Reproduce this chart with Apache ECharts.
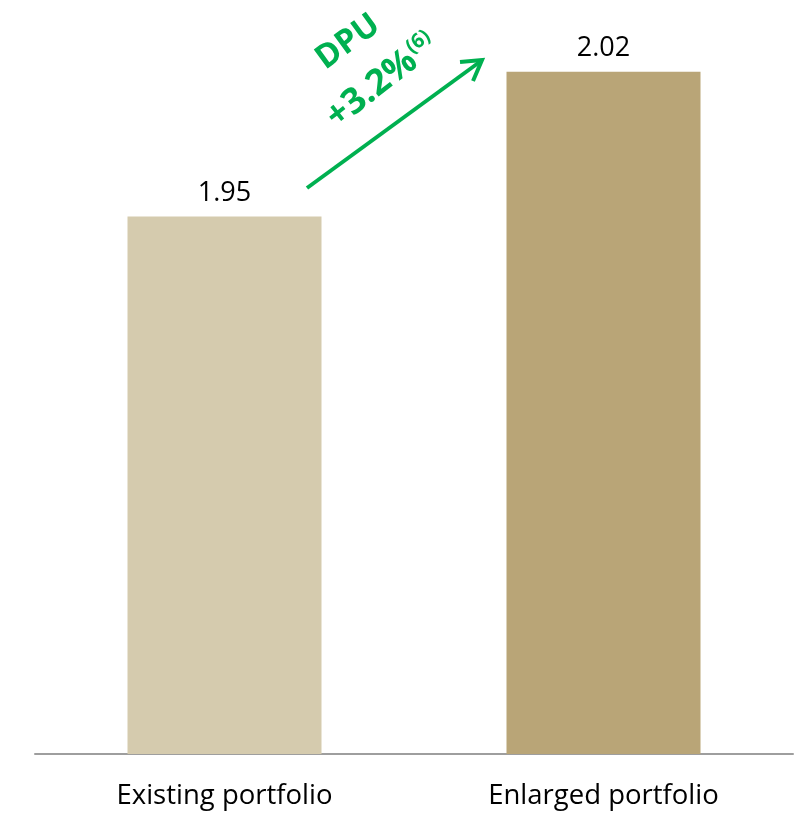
<!DOCTYPE html>
<html>
<head>
<meta charset="utf-8">
<script src="https://cdn.jsdelivr.net/npm/echarts@6/dist/echarts.min.js"></script>
<style>html,body{margin:0;padding:0;background:#fff}#c{width:797px;height:814px}</style>
</head>
<body>
<div id="c"></div>
<script>
const categories = ['Existing portfolio', 'Enlarged portfolio'];
const dpuValues = [1.95, 2.02];
const barColors = ['#D5CBAE', '#B9A577'];
const growthLabel = '+3.2%';
const growthNote = '(6)';
const titleLabel = 'DPU';

const chart = echarts.init(document.getElementById('c'));
const green = '#00B050';
const deg = Math.PI / 180;
chart.setOption({
  animation: false,
  grid: { left: 35, right: 4, top: 20, bottom: 60 },
  xAxis: {
    type: 'category',
    data: categories,
    axisLine: { show: true, lineStyle: { color: '#9E9E9E', width: 2 } },
    axisTick: { show: false },
    axisLabel: { fontFamily: 'Open Sans', fontSize: 27.5, color: '#000', margin: 28 }
  },
  yAxis: {
    type: 'value', min: 1.69, max: 2.045, show: false,
    splitLine: { show: false }
  },
  series: [{
    type: 'bar',
    barWidth: 194,
    data: dpuValues.map((v, i) => ({ value: v, itemStyle: { color: barColors[i] } })),
    label: {
      show: true, position: 'top', distance: 10,
      fontFamily: 'Open Sans', fontSize: 27, color: '#000',
      formatter: p => p.value.toFixed(2)
    }
  }],
  graphic: [
    { type: 'line', shape: { x1: 307, y1: 188, x2: 481, y2: 61 }, style: { stroke: green, lineWidth: 4 } },
    { type: 'polyline', shape: { points: [[460, 62], [482, 60], [473, 81]] }, style: { stroke: green, lineWidth: 4, fill: null } },
    { type: 'text', x: 348, y: 42, rotation: 36 * deg,
      style: { text: titleLabel, fill: green, font: 'bold 33px "Open Sans"', align: 'center', verticalAlign: 'middle' } },
    { type: 'text', x: 382, y: 81, rotation: 38 * deg,
      style: {
        text: '{a|' + growthLabel + '}{s|' + growthNote + '}',
        align: 'center', verticalAlign: 'middle',
        rich: {
          a: { fill: green, fontFamily: 'Open Sans', fontWeight: 'bold', fontSize: 36 },
          s: { fill: green, fontFamily: 'Open Sans', fontWeight: 'bold', fontSize: 20, padding: [0, 0, 17, 1] }
        }
      } }
  ]
});
</script>
</body>
</html>
